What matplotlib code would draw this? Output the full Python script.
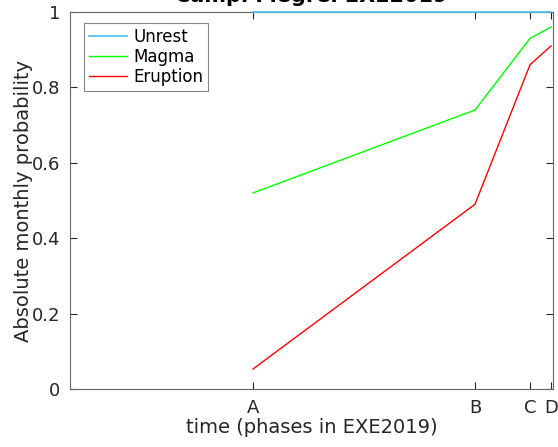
import matplotlib
matplotlib.use("Agg")
import matplotlib.pyplot as plt

# phase times (days from start of the plotted window)
phase_labels = ["A", "B", "C", "D"]
phase_times = [183, 405, 460, 481]
t_window = [0, 483]

unrest = [1.0, 1.0, 1.0, 1.0]
magma = [0.52, 0.74, 0.93, 0.96]
eruption = [0.053, 0.49, 0.86, 0.91]

plt.rcParams["font.family"] = "DejaVu Sans"
axis_grey = (0.15, 0.15, 0.15)

fig = plt.figure(figsize=(5.58, 4.47), dpi=100)
ax = fig.add_axes([70 / 558, 58 / 447, 483 / 558, 377 / 447])

ax.plot(phase_times, unrest, color=(0.30, 0.75, 0.93), lw=1.2, label="Unrest",
        clip_on=False, zorder=5)
ax.plot(phase_times, magma, color=(0.0, 1.0, 0.0), lw=1.0, label="Magma")
ax.plot(phase_times, eruption, color=(1.0, 0.0, 0.0), lw=1.0, label="Eruption")

ax.set_xlim(t_window)
ax.set_ylim(0, 1)
ax.set_xticks(phase_times)
ax.set_xticklabels(phase_labels)
ax.set_yticks([0, 0.2, 0.4, 0.6, 0.8, 1])
ax.set_yticklabels(["0", "0.2", "0.4", "0.6", "0.8", "1"])
ax.tick_params(direction="in", top=True, right=True, length=5, width=0.8,
               labelsize=13, colors=axis_grey, pad=7)
for s in ax.spines.values():
    s.set_color((0.4, 0.4, 0.4))
    s.set_linewidth(0.8)

ax.set_xlabel("time (phases in EXE2019)", fontsize=14, color=axis_grey, labelpad=1)
ax.set_ylabel("Absolute monthly probability", fontsize=14, color=axis_grey, labelpad=-1)
ax.set_title("Campi Flegrei EXE2019", fontsize=15, fontweight="bold", pad=7)

leg = ax.legend(loc="upper left", bbox_to_anchor=(0.029, 0.971), fontsize=12,
                frameon=True, fancybox=False, borderaxespad=0,
                handlelength=2.3, handletextpad=0.35, labelspacing=0.12,
                borderpad=0.3)
leg.get_frame().set_edgecolor((0.4, 0.4, 0.4))
leg.get_frame().set_linewidth(0.8)

fig.savefig("out.png", dpi=100)
